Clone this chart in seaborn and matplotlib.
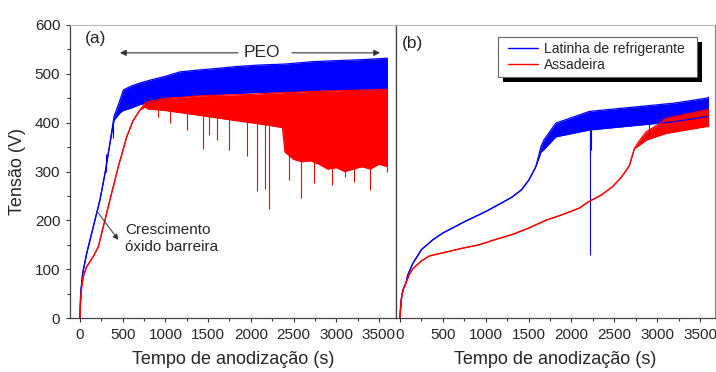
"""
Curvas de anodização (tensão x tempo) - latinha de refrigerante vs assadeira
"""

import matplotlib
matplotlib.use('Agg')
import matplotlib.pyplot as plt
from matplotlib.lines import Line2D
from matplotlib.patches import Rectangle
from matplotlib.ticker import MultipleLocator
import seaborn as sns

sns.set_style('ticks')
plt.rcParams['font.family'] = ['Liberation Sans', 'DejaVu Sans']

BLUE = '#0000FF'
RED = '#FF0000'

# ---- (a) envelopes: tempo (s), mínimo e máximo (V)
a_blue_t = [0, 8, 31, 78, 156, 234, 293, 351, 398, 468, 508, 600, 700, 820,
            1000, 1171, 1400, 1600, 1835, 2100, 2400, 2732, 3000, 3300, 3600]
a_blue_lo = [0, 51, 91, 132, 187, 242, 296, 358, 405, 420, 425, 430, 437, 443,
             450, 453, 456, 458, 460, 462, 463, 465, 466, 467, 468]
a_blue_hi = [0, 51, 91, 132, 187, 242, 296, 358, 412, 446, 467, 475, 481, 487,
             495, 504, 508, 511, 515, 518, 520, 525, 527, 529, 532]

a_red_t = [0, 8, 20, 39, 78, 156, 215, 273, 351, 449, 547, 624, 703, 760, 800,
           1000, 1200, 1400, 1600, 1800, 2000, 2200, 2370, 2400, 2500, 2600,
           2700, 2800, 2900, 3000, 3100, 3200, 3300, 3400, 3500, 3600]
a_red_lo = [0, 37, 64, 85, 105, 126, 146, 187, 242, 310, 371, 405, 426, 432, 428,
            425, 420, 415, 410, 405, 400, 395, 390, 340, 325, 320, 322, 315,
            305, 308, 300, 305, 310, 305, 315, 310]
a_red_hi = [0, 37, 64, 85, 105, 126, 146, 187, 242, 310, 371, 405, 426, 440, 443,
            450, 452, 455, 456, 457, 458, 460, 461, 462, 462, 463, 464, 464,
            465, 465, 466, 466, 467, 467, 468, 468]

# quedas pontuais de tensão (a)
a_blue_spk_t = [304, 383]
a_blue_spk_lo = [300, 368]
a_blue_spk_hi = [335, 405]
a_red_spk_t = [917, 1054, 1249, 1444, 1514, 1600, 1749, 1952, 2073, 2170, 2217,
               2451, 2591, 2744, 2951, 3107, 3212, 3400, 3591]
a_red_spk_lo = [412, 399, 385, 347, 375, 365, 345, 332, 261, 265, 223,
                283, 245, 276, 272, 289, 279, 262, 300]
a_red_spk_hi = [440, 445, 448, 450, 452, 452, 453, 455, 455, 456, 456,
                458, 458, 460, 460, 461, 462, 463, 465]

# ---- (b)
b_blue_t = [0, 8, 20, 40, 70, 90, 150, 250, 381, 500, 750, 1000, 1200, 1310,
            1420, 1505, 1585, 1645, 1680, 1818, 2209, 2792, 3200, 3571, 3600]
b_blue_lo = [0, 25, 45, 60, 72, 88, 112, 140, 160, 174, 197, 218, 237, 248,
             263, 283, 310, 340, 345, 371, 385, 395, 402, 412, 412]
b_blue_hi = [0, 25, 45, 60, 72, 88, 112, 140, 160, 174, 197, 218, 237, 248,
             263, 283, 310, 351, 365, 399, 423, 433, 440, 450, 452]

b_red_t = [0, 8, 20, 40, 70, 110, 150, 250, 342, 536, 732, 925, 1100, 1310,
           1500, 1700, 1900, 2092, 2200, 2350, 2480, 2580, 2630, 2676, 2735,
           2780, 2870, 3000, 3104, 3300, 3571, 3600]
b_red_lo = [0, 25, 45, 60, 72, 90, 101, 117, 127, 135, 143, 150, 160, 171,
            184, 200, 212, 225, 238, 252, 269, 288, 300, 312, 347,
            352, 364, 372, 378, 384, 392, 392]
b_red_hi = [0, 25, 45, 60, 72, 90, 101, 117, 127, 135, 143, 150, 160, 171,
            184, 200, 212, 225, 238, 252, 269, 288, 300, 312, 347,
            360, 381, 395, 409, 416, 426, 428]

b_blue_spk_t = [2215, 2221, 2232, 2901]
b_blue_spk_lo = [330, 130, 345, 375]
b_blue_spk_hi = [400, 400, 400, 410]

labels = ['Latinha de refrigerante', 'Assadeira']


def draw_series(ax, t, lo, hi, color):
    """Faixa de oscilação + bordas"""
    ax.fill_between(t, lo, hi, color=color, lw=0)
    sns.lineplot(x=t, y=lo, ax=ax, color=color, lw=0.9, estimator=None, sort=False)
    sns.lineplot(x=t, y=hi, ax=ax, color=color, lw=0.9, estimator=None, sort=False)


def draw_spikes(ax, t, lo, hi, color):
    ax.vlines(t, lo, hi, color=color, lw=0.8)


fig = plt.figure(figsize=(7.16, 3.72), dpi=100)
ax1 = fig.add_axes([70 / 716, 54 / 372, 326 / 716, 293 / 372])
ax2 = fig.add_axes([396 / 716, 54 / 372, 319 / 716, 293 / 372])

# (a)
draw_series(ax1, a_blue_t, a_blue_lo, a_blue_hi, BLUE)
draw_spikes(ax1, a_blue_spk_t, a_blue_spk_lo, a_blue_spk_hi, BLUE)
draw_series(ax1, a_red_t, a_red_lo, a_red_hi, RED)
draw_spikes(ax1, a_red_spk_t, a_red_spk_lo, a_red_spk_hi, RED)

# (b)
draw_series(ax2, b_blue_t, b_blue_lo, b_blue_hi, BLUE)
draw_spikes(ax2, b_blue_spk_t, b_blue_spk_lo, b_blue_spk_hi, BLUE)
draw_series(ax2, b_red_t, b_red_lo, b_red_hi, RED)

ax1.set_xlim(-117, 3700)
ax2.set_xlim(-47, 3675)
for ax in (ax1, ax2):
    ax.set_ylim(0, 600)
    ax.xaxis.set_major_locator(MultipleLocator(500))
    ax.xaxis.set_minor_locator(MultipleLocator(250))
    ax.yaxis.set_major_locator(MultipleLocator(100))
    ax.yaxis.set_minor_locator(MultipleLocator(50))
    ax.tick_params(which='major', direction='out', length=3, width=0.8,
                   color='#333333', labelsize=11, pad=4)
    ax.tick_params(which='minor', direction='out', length=2, width=0.8,
                   color='#333333')
    ax.set_xlabel('Tempo de anodização (s)', fontsize=13, labelpad=7)
    ax.set_ylabel('')
    for side in ('left', 'right', 'bottom'):
        ax.spines[side].set_color('#444444')
        ax.spines[side].set_linewidth(0.9)
    ax.spines['top'].set_color('#bbbbbb')
    ax.spines['top'].set_linewidth(0.8)

ax2.tick_params(axis='y', which='both', left=False, labelleft=False)
ax2.spines['right'].set_color('#888888')
ax1.set_ylabel('Tensão (V)', fontsize=13, labelpad=6)

# anotações
ax1.text(59, 573, '(a)', fontsize=12.5, va='center', ha='left')
ax2.text(27, 562, '(b)', fontsize=12.5, va='center', ha='left')

ax1.text(2131, 543, 'PEO', fontsize=12.5, ha='center', va='center')
arrow = dict(arrowstyle='-|>', color='#333333', lw=0.8, mutation_scale=9,
             shrinkA=0, shrinkB=0)
ax1.annotate('', xy=(468, 543), xytext=(1850, 543), arrowprops=arrow)
ax1.annotate('', xy=(3513, 543), xytext=(2482, 543), arrowprops=arrow)

ax1.text(527, 163, 'Crescimento\nóxido barreira', fontsize=11,
         ha='left', va='center', linespacing=1.3)
ax1.annotate('', xy=(449, 160), xytext=(214, 215),
             arrowprops=dict(arrowstyle='-|>', color='#333333', lw=0.7,
                             mutation_scale=8, shrinkA=0, shrinkB=0))

# legenda: moldura e sombra desenhadas à parte (mais folga lateral)
handles = [Line2D([], [], color=BLUE, lw=1), Line2D([], [], color=RED, lw=1)]
leg = ax2.legend(handles, labels, loc='upper right', bbox_to_anchor=(0.92, 0.96),
                 borderaxespad=0, fontsize=10, frameon=False,
                 handlelength=2.2, handletextpad=0.4, labelspacing=0.15,
                 borderpad=0.35)
leg.set_zorder(6)

fig.canvas.draw()
bb = leg.get_window_extent()
x0, x1 = bb.x0 - 5, bb.x1 + 8
y0, y1 = bb.y0, bb.y1
inv = ax2.transAxes.inverted()
(fx0, fy0), (fx1, fy1) = inv.transform([(x0, y0), (x1, y1)])
dx = 5 / ax2.bbox.width
dy = 5 / ax2.bbox.height
ax2.add_patch(Rectangle((fx0 + dx, fy0 - dy), fx1 - fx0, fy1 - fy0,
                        transform=ax2.transAxes, facecolor='black',
                        edgecolor='none', zorder=4.8, clip_on=False))
ax2.add_patch(Rectangle((fx0, fy0), fx1 - fx0, fy1 - fy0,
                        transform=ax2.transAxes, facecolor='white',
                        edgecolor='#666666', lw=0.8, zorder=4.9, clip_on=False))

plt.savefig('out.png', dpi=100)
plt.close()
